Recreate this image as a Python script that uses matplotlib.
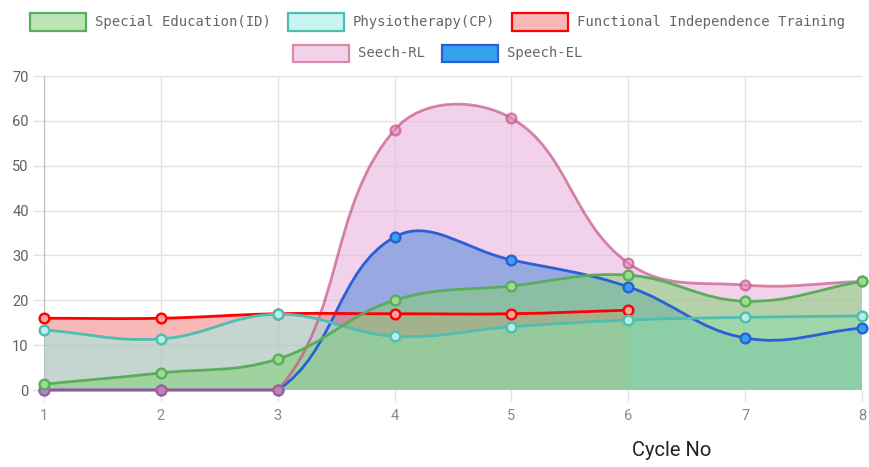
import matplotlib
matplotlib.use("Agg")
import matplotlib.pyplot as plt
from matplotlib.path import Path
from matplotlib.patches import PathPatch, Rectangle
import numpy as np

# data
cycles = [1, 2, 3, 4, 5, 6, 7, 8]
special_ed = [1.3, 3.8, 6.9, 20.0, 23.2, 25.6, 19.8, 24.2]
physio = [13.4, 11.4, 16.9, 12.0, 14.1, 15.6, 16.2, 16.5]
fit = [16.0, 16.0, 17.0, 17.0, 17.0, 17.8]
speech_rl = [0, 0, 0, 58.0, 60.6, 28.3, 23.4, 24.2]
speech_el = [0, 0, 0, 34.1, 29.0, 23.0, 11.6, 13.8]

labels = ["Special Education(ID)", "Physiotherapy(CP)",
          "Functional Independence Training", "Seech-RL", "Speech-EL"]
y_ticks = [0, 10, 20, 30, 40, 50, 60, 70]
x_label = "Cycle No"

# (fill rgba, line colour, marker fill)
styles = {
    "Special Education(ID)": ((131/255, 209/255, 119/255, 0.55), "#5aad5a", "#9ddb93"),
    "Physiotherapy(CP)": ((155/255, 237/255, 228/255, 0.55), "#4fbdb0", "#b5eee6"),
    "Functional Independence Training": ((245/255, 115/255, 115/255, 0.5), "#ff0000", "#f7a3a3"),
    "Seech-RL": ((233/255, 173/255, 218/255, 0.55), (198/255, 84/255, 134/255, 0.7),
                 (225/255, 140/255, 190/255, 0.6)),
    "Speech-EL": ((54/255, 162/255, 235/255, 1.0), "#2a5fd6", "#36a2eb"),
}
legend_edge = {"Seech-RL": "#d98aaa"}

W, H = 869, 467
left_px, right_px, top_px, bot_px = 44, 862, 76, 390
fig = plt.figure(figsize=(W / 100, H / 100), dpi=100)
ax = fig.add_axes([left_px / W, 1 - bot_px / H, (right_px - left_px) / W, (bot_px - top_px) / H])
ax.set_xlim(1, 8)
ax.set_ylim(0, 70)

sx = (right_px - left_px) / 7.0
sy = (bot_px - top_px) / 70.0


def spline_verts(xs, ys, tension=0.4):
    # chart.js style bezier (computed in pixel space, control points capped to the area)
    px = np.array(xs, float) * sx
    py = np.array(ys, float) * sy
    n = len(px)
    cin, cout = [], []
    for i in range(n):
        a, b = max(i - 1, 0), min(i + 1, n - 1)
        d01 = np.hypot(px[i] - px[a], py[i] - py[a])
        d12 = np.hypot(px[b] - px[i], py[b] - py[i])
        tot = d01 + d12
        s01 = d01 / tot if tot else 0
        s12 = d12 / tot if tot else 0
        fa, fb = tension * s01, tension * s12
        dx, dy = px[b] - px[a], py[b] - py[a]
        cin.append([px[i] - fa * dx, py[i] - fa * dy])
        cout.append([px[i] + fb * dx, py[i] + fb * dy])
    cin = np.array(cin)
    cout = np.array(cout)
    for c in (cin, cout):
        c[:, 0] = np.clip(c[:, 0], 1 * sx, 8 * sx) / sx
        c[:, 1] = np.clip(c[:, 1], 0, 70 * sy) / sy
    verts = [(xs[0], ys[0])]
    codes = [Path.MOVETO]
    for i in range(n - 1):
        verts += [tuple(cout[i]), tuple(cin[i + 1]), (xs[i + 1], ys[i + 1])]
        codes += [Path.CURVE4] * 3
    return verts, codes


series = [
    ("Speech-EL", speech_el),
    ("Seech-RL", speech_rl),
    ("Functional Independence Training", fit),
    ("Physiotherapy(CP)", physio),
    ("Special Education(ID)", special_ed),
]

for k, (name, vals) in enumerate(series):
    xs = cycles[:len(vals)]
    verts, codes = spline_verts(xs, vals)
    fill_v = [(xs[0], 0)] + verts + [(xs[-1], 0), (xs[0], 0)]
    fill_c = [Path.MOVETO, Path.LINETO] + codes[1:] + [Path.LINETO, Path.CLOSEPOLY]
    fc, lc, mc = styles[name]
    ax.add_patch(PathPatch(Path(fill_v, fill_c), facecolor=fc, edgecolor="none", zorder=1 + k))

for k, (name, vals) in enumerate(series):
    xs = cycles[:len(vals)]
    verts, codes = spline_verts(xs, vals)
    fc, lc, mc = styles[name]
    ax.add_patch(PathPatch(Path(verts, codes), facecolor="none", edgecolor=lc, lw=2.0,
                           zorder=10 + 2 * k, capstyle="round", joinstyle="round", clip_on=False))
    ax.plot(xs, vals, "o", ms=7, mfc=mc, mec=lc, mew=1.7, zorder=11 + 2 * k, clip_on=False)

ax.set_xticks(cycles)
ax.set_yticks(y_ticks)
ax.set_axisbelow(True)
ax.grid(True, color="#e3e3e3", lw=1)
ax.tick_params(axis="both", length=8, width=1, color="#e3e3e3", pad=3)
ax.tick_params(axis="y", labelcolor="#606060", labelsize=10.5)
ax.tick_params(axis="x", labelcolor="#8a8a8a", labelsize=10.5, pad=6)
for lab in ax.get_xticklabels() + ax.get_yticklabels():
    lab.set_family("Roboto")
for side in ["top", "right", "bottom"]:
    ax.spines[side].set_visible(False)
ax.spines["left"].set_color("#bdbdbd")

fig.text(672 / W, 1 - 451 / H, x_label, ha="center", va="center", fontsize=14.5,
         family="Roboto", color="#222222")

# legend drawn by hand so both rows are centred like the original
renderer = fig.canvas.get_renderer()
box_w, box_h, gap_txt, gap_item = 58, 17, 8, 16
rows = [labels[:3], labels[3:]]
row_y = [22, 53]
center_x = 437
for row, yc in zip(rows, row_y):
    texts = []
    widths = []
    for name in row:
        t = fig.text(0, 0, name, family="DejaVu Sans Mono", fontsize=10, color="#666666",
                     va="center", ha="left")
        widths.append(t.get_window_extent(renderer).width)
        texts.append(t)
    total = sum(box_w + gap_txt + w for w in widths) + gap_item * (len(row) - 1)
    x = center_x - total / 2
    for name, t, w in zip(row, texts, widths):
        fc, lc, mc = styles[name]
        fig.patches.append(Rectangle(((x + 1) / W, 1 - (yc + box_h / 2) / H), (box_w - 2) / W, box_h / H,
                                     transform=fig.transFigure, facecolor=fc,
                                     edgecolor=legend_edge.get(name, lc), lw=1.6, figure=fig))
        t.set_position(((x + box_w + gap_txt) / W, 1 - yc / H))
        x += box_w + gap_txt + w + gap_item

fig.savefig("out.png", dpi=100)
